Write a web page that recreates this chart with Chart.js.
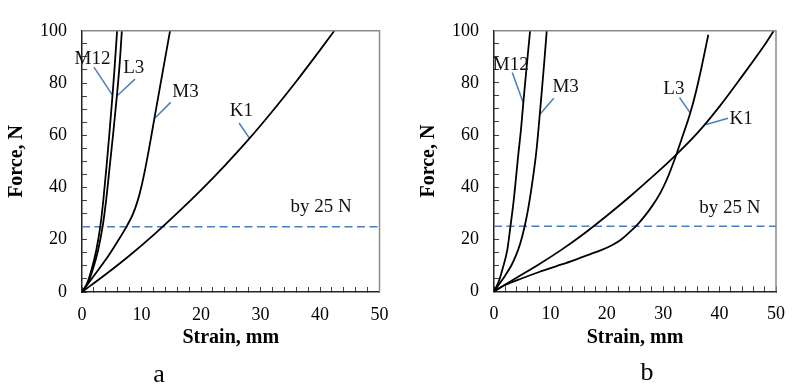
<!DOCTYPE html>
<html>
<head>
<meta charset="utf-8">
<script src="https://cdn.jsdelivr.net/npm/chart.js@4.4.0/dist/chart.umd.min.js"></script>
<style>
  body { margin: 0; background: #fff; width: 802px; height: 384px; position: relative; overflow: hidden; font-family: "Liberation Serif", serif; }
  canvas { position: absolute; top: 0; }
  #panelA { left: 0; }
  #panelB { left: 412px; }
  .tag { position: absolute; font-size: 26px; color: #000; transform: translate(-50%, -50%); }
</style>
</head>
<body>
<canvas id="panelA" width="412" height="384"></canvas>
<canvas id="panelB" width="390" height="384"></canvas>
<div class="tag" style="left:159px; top:374px;">a</div>
<div class="tag" style="left:647px; top:372px;">b</div>
<script>
// Force (N) against strain (mm), panel a
const aM12 = [[0,0],[0.8,3],[1.6,8.5],[2.4,16],[3.1,25.5],[3.6,35.5],[4.1,47.5],[4.6,60.5],[5.1,74.5],[5.45,85],[5.9,100]];
const aL3  = [[0,0],[1,3.5],[1.8,8.5],[2.7,16],[3.5,25.5],[4.1,36],[4.7,49],[5.3,62],[5.9,76],[6.35,88],[6.7,100]];
const aM3  = [[0,0],[2,6.2],[4,12.4],[5.5,17.6],[6.6,21.6],[7.6,25.5],[8.5,29.5],[9.3,34.5],[10.0,40.5],[10.7,48],[11.4,56.5],[12.25,67.5],[13.5,83.5],[14.8,100]];
const aK1  = [[0,0],[4,6.8],[8,14],[12,21.8],[16,30.2],[20,39],[24,48.4],[28,58.4],[32,69.2],[36,80.6],[40,92.6],[42.4,100]];

// panel b
const bM12 = [[0,0],[0.8,3.5],[1.5,8.5],[2.35,15.8],[2.9,24.6],[3.5,35],[4.3,52.3],[4.8,62.5],[5.2,72.4],[5.6,81.8],[6.0,91],[6.4,100]];
const bM3  = [[0,0],[1,3],[2,6.1],[3,9.6],[3.75,13],[4.6,18],[5.4,24.6],[6.0,31],[6.5,37.5],[7.0,45],[7.5,53.5],[8.0,65],[8.5,77.5],[8.95,89],[9.35,100]];
const bL3  = [[0,0],[2,2.4],[5,5],[8,7.4],[11,9.6],[14,11.8],[17,14.2],[19,15.8],[21,17.8],[22.5,19.8],[24,22.6],[25,24.6],[26.5,28.3],[28,32.6],[29.5,37.8],[30.7,43.2],[32,50.5],[33.4,59.3],[34.8,68.4],[35.8,76.5],[36.8,86],[38,98.5]];
const bK1  = [[0,0],[4,5.2],[8,10.4],[12,16],[16,22.2],[20,29],[24,36.2],[28,43.8],[32,51.8],[36,60.6],[40,71],[44,82.6],[48,94.6],[49.6,100]];

const threshold = 25;   // reference level, N
const strainTicks = [0, 10, 20, 30, 40, 50];
const forceTicks = [0, 20, 40, 60, 80, 100];

// curve names with their text spot and leader line (data units)
const notesA = [
  { text: 'M12', at: [1.76, 89.1], leader: [[2.0, 86.1], [5.15, 75.3]] },
  { text: 'L3',  at: [8.7, 85.8],  leader: [[8.9, 81.5], [6.0, 75.3]] },
  { text: 'M3',  at: [17.4, 76.5], leader: [[14.9, 72.6], [12.1, 66.2]] },
  { text: 'K1',  at: [26.8, 69.1], leader: [[26.4, 64.7], [28.2, 58.7]] },
  { text: 'by 25 N', at: [40.2, 32.5] }
];
const notesB = [
  { text: 'M12', at: [2.98, 87],   leader: [[3.24, 84], [5.2, 72.3]] },
  { text: 'M3',  at: [12.7, 78.5], leader: [[10.6, 74.1], [8.15, 68]] },
  { text: 'L3',  at: [31.9, 77.7], leader: [[32.9, 74.4], [34.8, 68.4]] },
  { text: 'K1',  at: [43.8, 66.3], leader: [[41.5, 66.4], [37.6, 64]] },
  { text: 'by 25 N', at: [41.8, 31.9] }
];

const SERIF = '"Liberation Serif", "Times New Roman", serif';
const BLUE = '#4a7ebf';

function toPoints(arr) {
  return arr.map(p => ({ x: p[0], y: p[1] }));
}

// grey top/right frame plus the curve names
function notesPlugin(notes) {
  return {
    id: 'notes',
    afterDatasetsDraw(chart) {
      const { ctx, chartArea: ca, scales: { x, y } } = chart;
      ctx.save();
      ctx.strokeStyle = '#8a8a8a';
      ctx.lineWidth = 1.5;
      ctx.beginPath();
      ctx.moveTo(ca.left, ca.top);
      ctx.lineTo(ca.right, ca.top);
      ctx.lineTo(ca.right, ca.bottom);
      ctx.stroke();
      ctx.font = '19px ' + SERIF;
      ctx.fillStyle = '#111';
      ctx.textAlign = 'center';
      ctx.textBaseline = 'middle';
      notes.forEach(n => {
        ctx.fillText(n.text, x.getPixelForValue(n.at[0]), y.getPixelForValue(n.at[1]));
      });
      ctx.restore();
    }
  };
}

function buildPanel(id, curves, notes, top, bottom, right) {
  const canvas = document.getElementById(id);
  const datasets = curves.map(c => ({
    data: toPoints(c),
    borderColor: '#000',
    borderWidth: 1.8,
    pointRadius: 0,
    cubicInterpolationMode: 'monotone'
  }));
  datasets.push({
    data: [{ x: 0, y: threshold }, { x: 50, y: threshold }],
    borderColor: BLUE,
    borderWidth: 1.5,
    borderDash: [8, 4.5],
    pointRadius: 0
  });
  notes.filter(n => n.leader).forEach(n => {
    datasets.push({
      data: toPoints(n.leader),
      borderColor: BLUE,
      borderWidth: 1.5,
      pointRadius: 0
    });
  });

  return new Chart(canvas.getContext('2d'), {
    type: 'line',
    data: { datasets },
    options: {
      responsive: false,
      animation: false,
      events: [],
      layout: { padding: { left: 0, top: top, right: canvas.width - right, bottom: 0 } },
      plugins: { legend: { display: false }, tooltip: { enabled: false } },
      scales: {
        x: {
          type: 'linear', min: 0, max: 50,
          ticks: {
            stepSize: 2, autoSkip: false, maxRotation: 0, padding: 17, color: '#000',
            font: { family: SERIF, size: 18 },
            callback: v => strainTicks.includes(v) ? String(v) : ''
          },
          grid: { drawOnChartArea: false, tickLength: -5, color: '#404040', lineWidth: 1 },
          border: { color: '#222', width: 1.5 },
          title: { display: true, text: 'Strain, mm', color: '#000',
                   font: { family: SERIF, size: 20, weight: 'bold' }, padding: { top: 0, bottom: 34 } },
          afterFit: s => { s.height = canvas.height - bottom; }
        },
        y: {
          type: 'linear', min: 0, max: 100,
          ticks: {
            stepSize: 5, autoSkip: false, padding: 20, color: '#000',
            font: { family: SERIF, size: 18 },
            callback: v => forceTicks.includes(v) ? String(v) : ''
          },
          grid: { drawOnChartArea: false, tickLength: -5, color: '#404040', lineWidth: 1 },
          border: { color: '#222', width: 1.5 },
          title: { display: true, text: 'Force, N', color: '#000',
                   font: { family: SERIF, size: 20, weight: 'bold' }, padding: { top: 5, bottom: 0 } },
          afterFit: s => { s.width = 82; }
        }
      }
    },
    plugins: [notesPlugin(notes)]
  });
}

buildPanel('panelA', [aM12, aL3, aM3, aK1], notesA, 14.7, 292, 379.5);
buildPanel('panelB', [bM12, bM3, bL3, bK1], notesB, 17.3, 291.3, 380.3);
</script>
</body>
</html>
